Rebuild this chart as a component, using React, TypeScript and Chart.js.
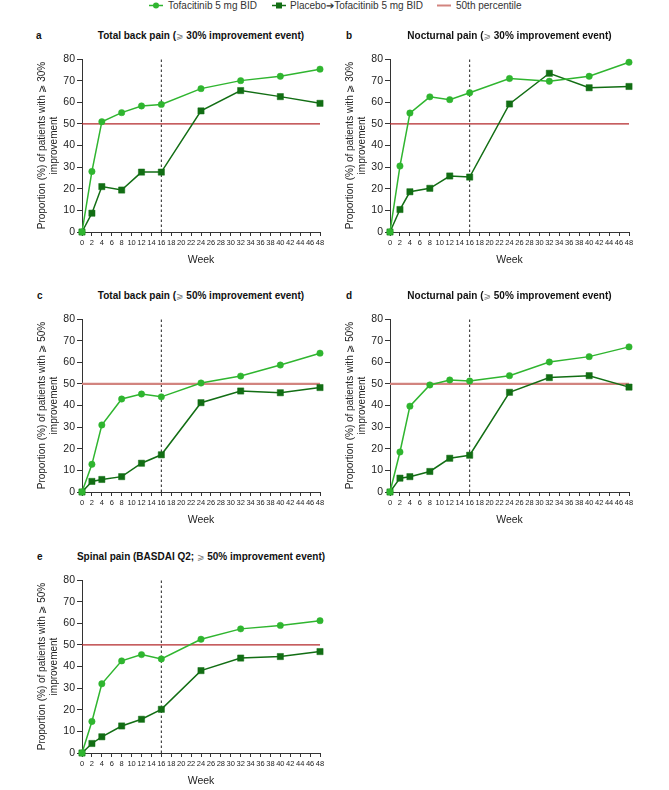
import React, { useEffect, useRef } from "react";
import { Chart, registerables } from "chart.js";

Chart.register(...registerables);

// ---------- data ----------
const weeks = [0, 2, 4, 8, 12, 16, 24, 32, 40, 48];
const xMax = 48;
const xStep = 2;
const yMax = 80;
const yStep = 10;
const threshold = 50;
const switchWeek = 16;

const seriesNames = ["Tofacitinib 5 mg BID", "Placebo\u2794Tofacitinib 5 mg BID", "50th percentile"];

const aTofa = [0, 28, 51, 55.2, 58.3, 59, 66.3, 70, 72, 75.3];
const aPlacebo = [0, 8.7, 21, 19.4, 27.7, 27.7, 56, 65.4, 62.6, 59.5];
const bTofa = [0, 30.5, 55, 62.5, 61.2, 64.4, 71, 69.7, 72, 78.5];
const bPlacebo = [0, 10.4, 18.6, 20.2, 25.9, 25.4, 59.2, 73.4, 66.7, 67.3];
const cTofa = [0, 12.8, 31, 43, 45.3, 44, 50.4, 53.6, 58.7, 64.2];
const cPlacebo = [0, 4.9, 5.8, 7.1, 13.3, 17.2, 41.3, 46.7, 45.9, 48.3];
const dTofa = [0, 18.5, 39.7, 49.5, 51.8, 51.3, 53.8, 60.1, 62.6, 67.1];
const dPlacebo = [0, 6.4, 7.1, 9.5, 15.6, 17, 46.1, 52.9, 53.8, 48.5];
const eTofa = [0, 14.6, 32, 42.6, 45.5, 43.5, 52.6, 57.4, 59, 61.2];
const ePlacebo = [0, 4.4, 7.5, 12.5, 15.6, 20.2, 38.1, 43.9, 44.6, 46.9];

const GE = "\u2A7E";
const titles = [
  `Total back pain (${GE} 30% improvement event)`,
  `Nocturnal pain (${GE} 30% improvement event)`,
  `Total back pain (${GE} 50% improvement event)`,
  `Nocturnal pain (${GE} 50% improvement event)`,
  `Spinal pain (BASDAI Q2; ${GE} 50% improvement event)`,
];
const yTitle30 = [`Proportion (%) of patients with ${GE} 30%`, "improvement"];
const yTitle50 = [`Proportion (%) of patients with ${GE} 50%`, "improvement"];
const xTitle = "Week";

// ---------- styles ----------
const FONT = "'Liberation Sans', Arial, Helvetica, sans-serif";
const LIGHT = "#2fb52f";
const DARK = "#126e14";
const RED_DARK = "#b3282b";
const RED_LIGHT = "#d2847f";
const AXIS = "#333333";
const TEXT = "#222222";

type Box = { L: number; T: number; R: number; B: number };

type PanelProps = {
  letter: string;
  title: string;
  yTitle: string[];
  tofa: number[];
  placebo: number[];
  redColor: string;
  redWidth: number;
  box: Box;
  letterX: number;
};

const Y_AXIS_W = 66;
const X_AXIS_H = 40;
const PAD_T = 10;
const PAD_R = 12;

function TitleText({ text }: { text: string }) {
  const parts = text.split(GE);
  return (
    <>
      {parts.map((part, i) => (
        <React.Fragment key={i}>
          {part}
          {i < parts.length - 1 ? (
            <span style={{ fontWeight: "normal", color: "#777", fontFamily: "'DejaVu Sans', sans-serif", fontSize: 9 }}>
              {GE}
            </span>
          ) : null}
        </React.Fragment>
      ))}
    </>
  );
}

function Panel(p: PanelProps) {
  const ref = useRef<HTMLCanvasElement | null>(null);
  const { L, T, R, B } = p.box;
  const cLeft = L - Y_AXIS_W;
  const cTop = T - PAD_T;
  const cW = R - L + Y_AXIS_W + PAD_R;
  const cH = B - T + PAD_T + X_AXIS_H;

  useEffect(() => {
    if (!ref.current) return;
    const toXY = (arr: number[]) => weeks.map((w, i) => ({ x: w, y: arr[i] }));
    const chart = new Chart(ref.current, {
      type: "line",
      data: {
        datasets: [
          {
            label: seriesNames[0],
            data: toXY(p.tofa),
            borderColor: LIGHT,
            backgroundColor: LIGHT,
            borderWidth: 1.5,
            pointStyle: "circle",
            pointRadius: 3.2,
            pointBorderWidth: 0.5,
            pointBorderColor: LIGHT,
            tension: 0,
            clip: false,
          },
          {
            label: seriesNames[1],
            data: toXY(p.placebo),
            borderColor: DARK,
            backgroundColor: DARK,
            borderWidth: 1.5,
            pointStyle: "rect",
            pointRadius: 4.4,
            pointBorderWidth: 0.5,
            pointBorderColor: DARK,
            tension: 0,
            clip: false,
          },
          {
            label: seriesNames[2],
            data: [
              { x: 0, y: threshold },
              { x: xMax, y: threshold },
            ],
            borderColor: p.redColor,
            borderWidth: p.redWidth,
            pointRadius: 0,
            clip: false,
          },
          {
            label: "switch",
            data: [
              { x: switchWeek, y: 0 },
              { x: switchWeek, y: yMax },
            ],
            borderColor: "#222",
            borderWidth: 1,
            borderDash: [2.5, 2.5],
            pointRadius: 0,
            clip: false,
          },
        ],
      },
      options: {
        responsive: false,
        animation: false,
        layout: { padding: { left: 0, top: PAD_T, right: PAD_R, bottom: 0 } },
        plugins: { legend: { display: false }, tooltip: { enabled: false } },
        scales: {
          x: {
            type: "linear",
            min: 0,
            max: xMax,
            ticks: {
              stepSize: xStep,
              maxTicksLimit: 100,
              autoSkip: false,
              maxRotation: 0,
              minRotation: 0,
              padding: 2,
              color: TEXT,
              font: { family: FONT, size: 7.5 },
            },
            grid: { drawOnChartArea: false, drawTicks: true, tickLength: 4, color: AXIS, lineWidth: 1 },
            border: { display: true, color: AXIS, width: 1 },
            title: {
              display: true,
              text: xTitle,
              color: TEXT,
              font: { family: FONT, size: 10.5, lineHeight: "12px" },
              padding: { top: 0, bottom: 6 },
            },
            afterFit: (s: any) => {
              s.height = X_AXIS_H;
            },
          },
          y: {
            type: "linear",
            min: 0,
            max: yMax,
            ticks: {
              stepSize: yStep,
              padding: 2,
              color: TEXT,
              font: { family: FONT, size: 10.5 },
            },
            grid: { drawOnChartArea: false, drawTicks: true, tickLength: 5, color: AXIS, lineWidth: 1 },
            border: { display: true, color: AXIS, width: 1 },
            title: {
              display: true,
              text: p.yTitle,
              color: TEXT,
              font: { family: FONT, size: 10, lineHeight: "12px" },
              padding: { top: 20, bottom: 0 },
            },
            afterFit: (s: any) => {
              s.width = Y_AXIS_W;
            },
          },
        },
      } as any,
    });
    return () => chart.destroy();
  }, []);

  return (
    <>
      <div
        style={{
          position: "absolute",
          left: p.letterX,
          top: T - 30,
          height: 14,
          lineHeight: "14px",
          fontFamily: FONT,
          fontWeight: "bold",
          fontSize: 10,
          color: "#111",
        }}
      >
        {p.letter}
      </div>
      <div
        style={{
          position: "absolute",
          left: L - 40,
          width: R - L + 80,
          top: T - 30,
          height: 14,
          lineHeight: "14px",
          textAlign: "center",
          fontFamily: FONT,
          fontWeight: "bold",
          fontSize: 10,
          color: "#111",
          whiteSpace: "nowrap",
        }}
      >
        <TitleText text={p.title} />
      </div>
      <canvas
        ref={ref}
        width={cW}
        height={cH}
        style={{ position: "absolute", left: cLeft, top: cTop, width: cW, height: cH }}
      />
    </>
  );
}

function Legend() {
  const textStyle: React.CSSProperties = {
    position: "absolute",
    top: 0,
    height: 11,
    lineHeight: "11px",
    fontFamily: FONT,
    fontSize: 10,
    color: "#333",
    whiteSpace: "nowrap",
  };
  return (
    <>
      <svg style={{ position: "absolute", left: 148, top: 0 }} width={16} height={11}>
        <line x1={1} y1={5.5} x2={15} y2={5.5} stroke={LIGHT} strokeWidth={1.5} />
        <circle cx={8} cy={5.5} r={3} fill={LIGHT} />
      </svg>
      <div style={{ ...textStyle, left: 168 }}>{seriesNames[0]}</div>
      <svg style={{ position: "absolute", left: 271, top: 0 }} width={16} height={11}>
        <line x1={1} y1={5.5} x2={15} y2={5.5} stroke={DARK} strokeWidth={1.5} />
        <rect x={5} y={2.5} width={6} height={6} fill={DARK} />
      </svg>
      <div style={{ ...textStyle, left: 290 }}>{seriesNames[1]}</div>
      <svg style={{ position: "absolute", left: 436, top: 0 }} width={16} height={11}>
        <line x1={1} y1={5.5} x2={15} y2={5.5} stroke={RED_LIGHT} strokeWidth={2} />
      </svg>
      <div style={{ ...textStyle, left: 456 }}>{seriesNames[2]}</div>
    </>
  );
}

export default function App() {
  return (
    <div style={{ position: "absolute", left: 0, top: 0, width: 669, height: 790, background: "#fff" }}>
      <Legend />
      <Panel letter="a" title={titles[0]} yTitle={yTitle30} tofa={aTofa} placebo={aPlacebo}
        redColor={RED_DARK} redWidth={1.2} box={{ L: 82, T: 59, R: 320, B: 232 }} letterX={36} />
      <Panel letter="b" title={titles[1]} yTitle={yTitle30} tofa={bTofa} placebo={bPlacebo}
        redColor={RED_DARK} redWidth={1.2} box={{ L: 390, T: 59, R: 629, B: 232 }} letterX={346} />
      <Panel letter="c" title={titles[2]} yTitle={yTitle50} tofa={cTofa} placebo={cPlacebo}
        redColor={RED_LIGHT} redWidth={2.2} box={{ L: 82, T: 319, R: 320, B: 492 }} letterX={37} />
      <Panel letter="d" title={titles[3]} yTitle={yTitle50} tofa={dTofa} placebo={dPlacebo}
        redColor={RED_LIGHT} redWidth={2.2} box={{ L: 390, T: 319, R: 629, B: 492 }} letterX={346} />
      <Panel letter="e" title={titles[4]} yTitle={yTitle50} tofa={eTofa} placebo={ePlacebo}
        redColor={RED_DARK} redWidth={1.2} box={{ L: 82, T: 580, R: 320, B: 753 }} letterX={37} />
    </div>
  );
}
